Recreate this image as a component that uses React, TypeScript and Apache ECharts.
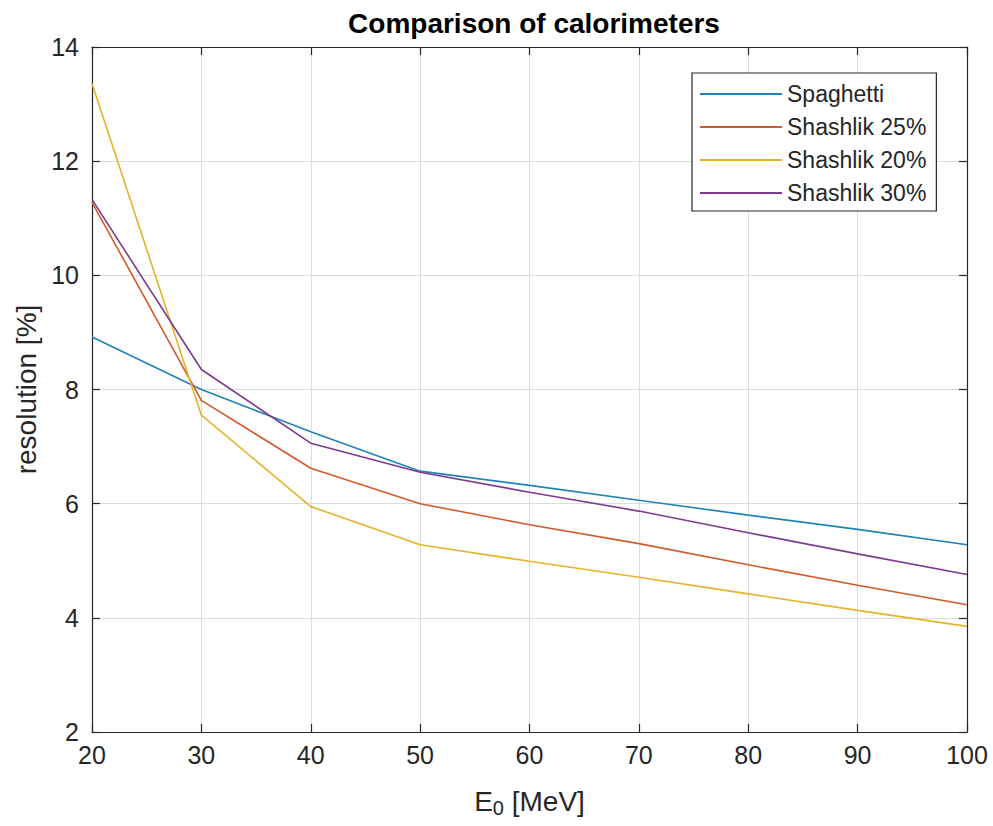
import React, { useEffect, useRef } from "react";
import * as echarts from "echarts";

const energies = [20, 30, 40, 50, 60, 70, 80, 90, 100];
const seriesNames = ["Spaghetti", "Shashlik 25%", "Shashlik 20%", "Shashlik 30%"];
const spaghetti = [8.92, 8.0, 7.26, 6.57, 6.32, 6.06, 5.8, 5.55, 5.28];
const shashlik25 = [11.28, 7.81, 6.62, 6.0, 5.63, 5.3, 4.93, 4.57, 4.23];
const shashlik20 = [13.36, 7.55, 5.95, 5.28, 4.99, 4.71, 4.42, 4.13, 3.85];
const shashlik30 = [11.33, 8.35, 7.06, 6.55, 6.2, 5.87, 5.49, 5.12, 4.76];
const seriesColors = ["#1f84b5", "#d35a2a", "#e6b22a", "#7e3a8e"];

const FONT = "Liberation Sans, Arial, sans-serif";

export default function App() {
  const ref = useRef<HTMLDivElement>(null);
  useEffect(() => {
    document.body.style.margin = "0";
    const chart = echarts.init(ref.current!, null, { renderer: "svg" });
    const values = [spaghetti, shashlik25, shashlik20, shashlik30];
    const axisCommon = {
      type: "value" as const,
      axisLine: { show: true, lineStyle: { color: "#262626", width: 1.2 } },
      axisTick: { show: true, inside: true, length: 8, lineStyle: { color: "#262626", width: 1.2 } },
    };
    chart.setOption({
      animation: false,
      backgroundColor: "#ffffff",
      title: {
        text: "Comparison of calorimeters",
        left: 529,
        textAlign: "center",
        top: 4,
        textStyle: { fontFamily: FONT, fontSize: 28, fontWeight: "bold", color: "#000000" },
      },
      grid: { left: 92, top: 47, right: 26, bottom: 94, outerBoundsMode: "none", containLabel: false },
      legend: {
        orient: "vertical",
        left: 692,
        top: 73,
        data: seriesNames,
        icon: "rect",
        itemWidth: 82,
        itemHeight: 2,
        itemGap: 9,
        padding: [9, 10, 6, 8],
        backgroundColor: "#ffffff",
        borderColor: "#262626",
        borderWidth: 1.2,
        textStyle: { fontFamily: FONT, fontSize: 23, color: "#262626", lineHeight: 24 },
      },
      xAxis: [
        {
          ...axisCommon,
          min: 20,
          max: 100,
          interval: 10,
          position: "bottom",
          name: "E{sub|0} [MeV]",
          nameLocation: "middle",
          nameGap: 52,
          nameTextStyle: {
            fontFamily: FONT,
            fontSize: 28,
            color: "#262626",
            rich: { sub: { fontFamily: FONT, fontSize: 20, color: "#262626", verticalAlign: "bottom", padding: [14, 0, 0, 0] } },
          },
          axisLabel: { fontFamily: FONT, fontSize: 25, color: "#262626", margin: 10 },
          splitLine: { show: true, lineStyle: { color: "#dcdcdc", width: 1 } },
        },
        {
          ...axisCommon,
          min: 20,
          max: 100,
          interval: 10,
          position: "top",
          axisLabel: { show: false },
          splitLine: { show: false },
        },
      ],
      yAxis: [
        {
          ...axisCommon,
          min: 2,
          max: 14,
          interval: 2,
          position: "left",
          name: "resolution [%]",
          nameLocation: "middle",
          nameGap: 52,
          nameTextStyle: { fontFamily: FONT, fontSize: 28, color: "#262626" },
          axisLabel: { fontFamily: FONT, fontSize: 25, color: "#262626", margin: 13 },
          splitLine: { show: true, lineStyle: { color: "#dcdcdc", width: 1 } },
        },
        {
          ...axisCommon,
          min: 2,
          max: 14,
          interval: 2,
          position: "right",
          axisLabel: { show: false },
          splitLine: { show: false },
        },
      ],
      series: seriesNames.map((name, i) => ({
        name,
        type: "line",
        xAxisIndex: 0,
        yAxisIndex: 0,
        symbol: "none",
        color: seriesColors[i],
        lineStyle: { color: seriesColors[i], width: 1.6 },
        data: energies.map((e, j) => [e, values[i][j]]),
      })),
    });
    return () => chart.dispose();
  }, []);
  return <div ref={ref} style={{ width: 993, height: 826 }} />;
}
